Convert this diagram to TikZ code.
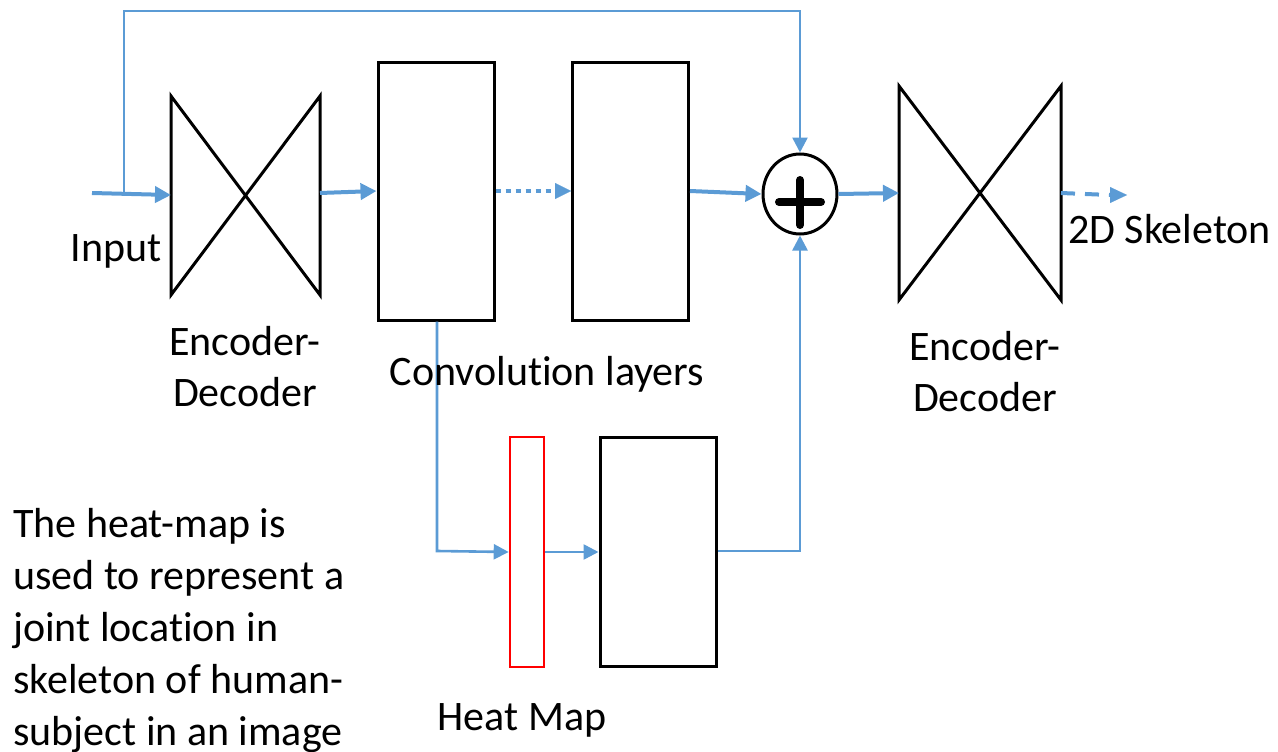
\documentclass[tikz,border=0pt]{standalone}
\usepackage{fontspec}
\setmainfont{Carlito}[Ligatures=NoCommon]
\usetikzlibrary{arrows.meta,shapes.geometric}
\definecolor{lblue}{RGB}{91,155,213}
\begin{document}
\begin{tikzpicture}[x=1pt,y=-1pt,
  box/.style={draw=black,line width=3pt,minimum width=116pt,inner sep=0pt,fill=none},
  bow/.style={draw=black,line width=3pt,line join=miter},
  flow/.style={draw=lblue,line width=4pt,-{Triangle[length=16pt,width=16pt]}},
  thin/.style={draw=lblue,line width=2.6pt},
  thinarrow/.style={thin,-{Triangle[length=15pt,width=15pt]}},
  lbl/.style={font=\fontsize{42}{51}\selectfont,inner sep=0pt,align=center}]
\useasboundingbox (0,0) rectangle (1278,752);
% encoder-decoder 1
\coordinate (e1tl) at (171,96); \coordinate (e1tr) at (320,96);
\coordinate (e1bl) at (171,295); \coordinate (e1br) at (320,295);
\draw[bow] (e1tl) -- (e1bl) -- (e1tr) -- (e1br) -- cycle;
\coordinate (e1in) at (171,195); \coordinate (e1out) at (320,193);
% encoder-decoder 2
\coordinate (e2tl) at (899,86); \coordinate (e2tr) at (1061,86);
\coordinate (e2bl) at (899,300); \coordinate (e2br) at (1061,300);
\draw[bow] (e2tl) -- (e2bl) -- (e2tr) -- (e2br) -- cycle;
\coordinate (e2in) at (899,193); \coordinate (e2out) at (1061,193);
% boxes
\node[box,minimum height=257pt] (c1) at (436,191.5) {};
\node[box,minimum height=257pt] (c2) at (630.5,191.5) {};
\node[box,minimum height=229pt] (c3) at (658,551.5) {};
\node[draw=red,line width=2.6pt,minimum width=34pt,minimum height=230pt,inner sep=0pt] (hm) at (527,552) {};
% sum
\node[ellipse,draw=black,line width=3pt,minimum width=74pt,minimum height=80pt,inner sep=0pt] (sum) at (800,194) {};
\draw[line width=8pt,line cap=round] (779,202) -- (821,202) (800,180) -- (800,225);
% input
\coordinate (inp) at (92,193);
\coordinate (fb) at (124,193);
\draw[flow] (inp) -- (e1in);
\draw[thinarrow] (fb) -- (124,11) -- (sum.north |- 0,11) -- (sum.north);
\draw[flow] (e1out) -- (c1.west |- 0,191);
\draw[lblue,line width=4pt,dotted,line cap=butt,dash pattern=on 5pt off 5pt] (c1.east |- 0,191) -- (556,191);
\draw[lblue,-{Triangle[length=16pt,width=16pt]},line width=0.1pt] (556,191) -- (c2.west |- 0,191);
\draw[flow] (c2.east |- 0,191) -- (sum.west);
\draw[flow] (sum.east) -- (e2in);
\draw[lblue,line width=4pt,dash pattern=on 14pt off 10pt] (e2out) -- (1110,195);
\draw[lblue,-{Triangle[length=17pt,width=16pt]},line width=0.1pt] (1110,195) -- (1127,195);
% heat-map branch
\draw[thinarrow] (c1.south -| 437,0) -- (437,551) -- (hm.west);
\draw[thinarrow] (hm.east) -- (c3.west |- hm.east);
\draw[thinarrow] (c3.east |- 0,551) -- (800,551) -- (sum.south);
% labels
\node[lbl] (tin) at (116,251) {Input};
\node[lbl] (ted1) at (245,367) {Encoder-\\Decoder};
\node[lbl] (tconv) at (547,374) {Convolution layers};
\node[lbl] (ted2) at (985,372) {Encoder-\\Decoder};
\node[lbl,anchor=west] (tsk) at (1068,229) {2D Skeleton};
\node[lbl] (thm) at (522,720) {Heat Map};
\node[lbl,align=left,anchor=north west,font=\fontsize{42}{52}\selectfont] (tpara) at (13,508) {The heat-map is\\used to represent a\\joint location in\\skeleton of human-\\subject in an image};
\end{tikzpicture}
\end{document}
